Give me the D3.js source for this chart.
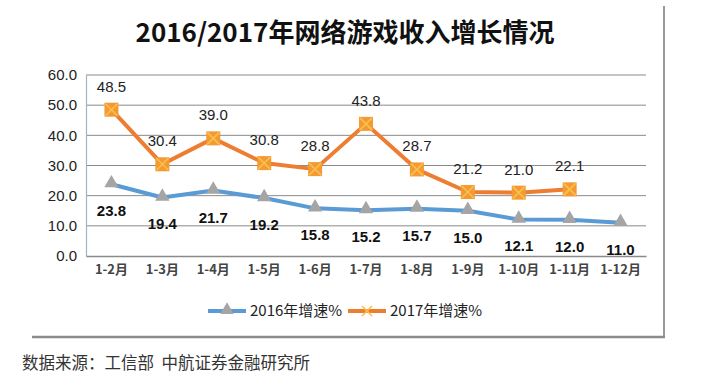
<!DOCTYPE html>
<html><head><meta charset="utf-8">
<script src="https://cdn.jsdelivr.net/npm/d3@7"></script>
<style>
body{margin:0;background:#fff;}
svg{display:block;}
</style></head>
<body>
<svg id="chart" width="711" height="380"></svg>
<script>
const categories = ["1-2月","1-3月","1-4月","1-5月","1-6月","1-7月","1-8月","1-9月","1-10月","1-11月","1-12月"];
const values2016 = [23.8,19.4,21.7,19.2,15.8,15.2,15.7,15.0,12.1,12.0,11.0];
const values2017 = [48.5,30.4,39.0,30.8,28.8,43.8,28.7,21.2,21.0,22.1,null];
const yTicks = [0,10,20,30,40,50,60];
const seriesNames = ["2016年增速%","2017年增速%"];
const titleText = "2016/2017年网络游戏收入增长情况";
const sourceText = "数据来源：工信部  中航证券金融研究所";

const svg = d3.select("#chart");
const font = "'Liberation Sans', 'Noto Sans CJK SC', sans-serif";
const m = {left:86, right:646, top:75, bottom:256};

const x = d3.scaleBand().domain(categories).range([m.left, m.right]);
const y = d3.scaleLinear().domain([0,60]).range([m.bottom, m.top]);
const cx = d => x(d) + x.bandwidth()/2;

// outer frame (right and bottom)
svg.append("line").attr("x1",664).attr("x2",664).attr("y1",6).attr("y2",338)
  .attr("stroke","#999").attr("stroke-width",2);
svg.append("line").attr("x1",32).attr("x2",665).attr("y1",337).attr("y2",337)
  .attr("stroke","#8c8c8c").attr("stroke-width",2.5);

// title
svg.append("text").attr("x",345).attr("y",42).attr("text-anchor","middle")
  .attr("font-family","'Noto Sans CJK SC', sans-serif").attr("font-weight","bold")
  .attr("font-size",26).attr("fill","#111").text(titleText);

// gridlines
svg.append("g").selectAll("line").data(yTicks.filter(d=>d>0)).join("line")
  .attr("x1",m.left).attr("x2",m.right).attr("y1",d=>y(d)).attr("y2",d=>y(d))
  .attr("stroke","#8a8a8a").attr("stroke-width",1);

// y axis
const yAxis = d3.axisLeft(y).tickValues(yTicks).tickFormat(d3.format(".1f")).tickSize(0).tickPadding(9);
const gy = svg.append("g").attr("transform",`translate(${m.left},0)`).call(yAxis);
gy.select(".domain").attr("stroke","#9fb3c8").attr("stroke-width",1.2);
gy.selectAll("text").attr("font-family",font).attr("font-size",15).attr("fill","#222");

// x axis
const xAxis = d3.axisBottom(x).tickSize(0).tickPadding(9);
const gx = svg.append("g").attr("transform",`translate(0,${m.bottom})`).call(xAxis);
gx.select(".domain").attr("stroke","#8a8a8a").attr("stroke-width",1.5);
gx.selectAll("text").attr("font-family","'Noto Sans CJK SC', sans-serif").attr("font-size",13)
  .attr("font-weight","bold").attr("fill","#444");

// lines
const line = d3.line().defined(d=>d.v!=null).x(d=>cx(d.c)).y(d=>y(d.v));
const d16 = categories.map((c,i)=>({c, v:values2016[i]}));
const d17 = categories.map((c,i)=>({c, v:values2017[i]}));

svg.append("path").datum(d16).attr("d",line).attr("fill","none")
  .attr("stroke","#5b9bd5").attr("stroke-width",4).attr("stroke-linejoin","round");
svg.append("path").datum(d17).attr("d",line).attr("fill","none")
  .attr("stroke","#ed7d31").attr("stroke-width",4).attr("stroke-linejoin","round");

// markers
const tri = d3.symbol().type(d3.symbolTriangle).size(90);
svg.append("g").selectAll("path").data(d16).join("path")
  .attr("d",tri).attr("transform",d=>`translate(${cx(d.c)},${y(d.v)-1})`)
  .attr("fill","#a5a5a5");

const g17 = svg.append("g").selectAll("g").data(d17.filter(d=>d.v!=null)).join("g")
  .attr("transform",d=>`translate(${cx(d.c)},${y(d.v)})`);
g17.append("rect").attr("x",-7).attr("y",-7).attr("width",14).attr("height",14).attr("fill","#f39a35");
g17.append("path").attr("d","M-6,-6L6,6M6,-6L-6,6").attr("stroke","#fbc04a").attr("stroke-width",1.6);

// labels
svg.append("g").selectAll("text").data(d16).join("text")
  .attr("x",d=>cx(d.c)).attr("y",d=>y(d.v)+32).attr("text-anchor","middle")
  .attr("font-family",font).attr("font-weight","bold").attr("font-size",15).attr("fill","#111")
  .text(d=>d3.format(".1f")(d.v));
svg.append("g").selectAll("text").data(d17.filter(d=>d.v!=null)).join("text")
  .attr("x",d=>cx(d.c)).attr("y",d=>y(d.v)-18).attr("text-anchor","middle")
  .attr("font-family",font).attr("font-size",15).attr("fill","#222")
  .text(d=>d3.format(".1f")(d.v));

// legend
const lg = svg.append("g").attr("transform","translate(0,311)");
lg.append("line").attr("x1",208).attr("x2",246).attr("stroke","#5b9bd5").attr("stroke-width",4);
lg.append("path").attr("d",d3.symbol().type(d3.symbolTriangle).size(80)).attr("transform","translate(227,-1)").attr("fill","#a5a5a5");
lg.append("text").attr("x",250).attr("y",5).attr("font-family","'Noto Sans CJK SC', sans-serif").attr("font-size",15).attr("fill","#222").text(seriesNames[0]);
lg.append("line").attr("x1",348).attr("x2",386).attr("stroke","#ed7d31").attr("stroke-width",4);
lg.append("path").attr("d","M-5,-5L5,5M5,-5L-5,5").attr("transform","translate(367,0)").attr("stroke","#fbc04a").attr("stroke-width",1.6);
lg.append("text").attr("x",390).attr("y",5).attr("font-family","'Noto Sans CJK SC', sans-serif").attr("font-size",15).attr("fill","#222").text(seriesNames[1]);

// source
svg.append("text").attr("x",22).attr("y",369).attr("font-family","'Noto Sans CJK SC', sans-serif")
  .attr("font-size",16.5).attr("fill","#333").attr("xml:space","preserve").style("white-space","pre").text(sourceText);
</script>
</body></html>
